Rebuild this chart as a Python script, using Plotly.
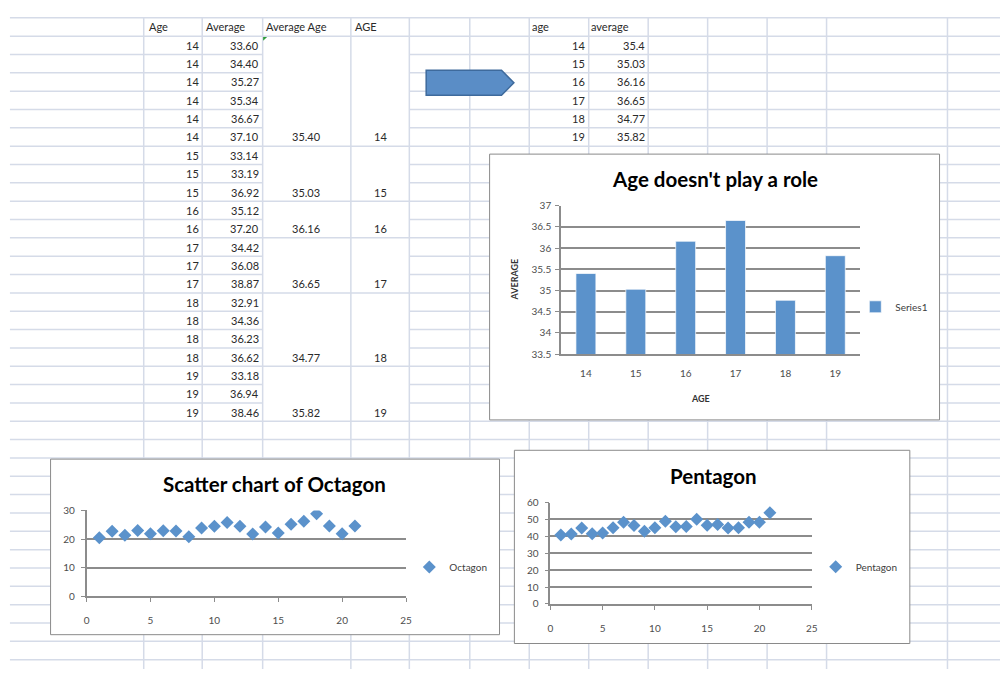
import plotly.graph_objects as go

W, H = 1006, 675

# ---------------- data ----------------
ages = [14, 14, 14, 14, 14, 14, 15, 15, 15, 16, 16, 17, 17, 17, 18, 18, 18, 18, 19, 19, 19]
averages = [33.60, 34.40, 35.27, 35.34, 36.67, 37.10, 33.14, 33.19, 36.92, 35.12, 37.20,
            34.42, 36.08, 38.87, 32.91, 34.36, 36.23, 36.62, 33.18, 36.94, 38.46]
group_ages = [14, 15, 16, 17, 18, 19]
group_avgs = [35.40, 35.03, 36.16, 36.65, 34.77, 35.82]
group_last_row = [6, 9, 11, 14, 18, 21]   # row (1-based) where merged cell text sits

octagon_x = [1, 2, 3, 4, 5, 6, 7, 8, 9, 10, 11, 12, 13, 14, 15, 16, 17, 18, 19, 20, 21]
octagon_y = [20.5, 22.7, 21.3, 23.0, 21.9, 22.9, 22.8, 20.8, 23.9, 24.5, 25.8,
             24.5, 21.8, 24.2, 22.1, 25.2, 26.2, 28.8, 24.6, 21.9, 24.6]
pentagon_x = [1, 2, 3, 4, 5, 6, 7, 8, 9, 10, 11, 12, 13, 14, 15, 16, 17, 18, 19, 20, 21]
pentagon_y = [40.8, 41.4, 44.9, 41.6, 42.0, 45.1, 48.4, 46.4, 43.0, 45.1, 49.0,
              45.7, 45.9, 50.1, 46.6, 47.0, 44.9, 45.1, 48.4, 48.4, 54.0]

left_headers = ["Age", "Average", "Average Age", "AGE"]
right_headers = ["age", "average"]

# ---------------- helpers ----------------
def X(px):
    return px / W


def Y(py):
    return 1 - py / H


ROW0, ROWH = 11.0, 18.7


def row_line(k):
    return ROW0 + ROWH * k


def row_mid(r):
    return ROW0 + ROWH * (r + 0.5)


GRID = "#D5DBE8"
AXC = "#8C8C8C"
BLUE = "#5B92CB"
FONT = "Lato"
TXT = "#2a2a2a"
TICKF = dict(family=FONT, size=10, color="#4d4d4d")

shapes = []
annotations = []

# spreadsheet gridlines
col_lines = [142, 201, 262, 351, 410, 471, 531, 591, 651, 711, 771, 831, 953]
merged_internal = {2, 3, 4, 5, 6, 8, 9, 11, 13, 14, 16, 17, 18, 20, 21}
for k in range(36):
    y = row_line(k)
    segs = [(7, 262), (410, W)] if k in merged_internal else [(7, W)]
    for a, b in segs:
        shapes.append(dict(type="line", xref="paper", yref="paper", x0=X(a), x1=X(b),
                           y0=Y(y), y1=Y(y), line=dict(color=GRID, width=1.5), layer="below"))
for c in col_lines:
    shapes.append(dict(type="line", xref="paper", yref="paper", x0=X(c), x1=X(c),
                       y0=Y(row_line(0)), y1=Y(H), line=dict(color=GRID, width=1.5), layer="below"))

# green error triangle
shapes.append(dict(type="path", xref="paper", yref="paper", layer="below",
                   path=f"M{X(262.5)},{Y(30.5)} L{X(266.5)},{Y(30.5)} L{X(262.5)},{Y(34.5)} Z",
                   fillcolor="#2E9B3A", line=dict(width=0)))

# arrow shape
pts = [(427, 64.5), (503, 64.5), (515.5, 77.3), (503, 90), (427, 90)]
path = "M" + " L".join(f"{X(a)},{Y(b)}" for a, b in pts) + " Z"
shapes.append(dict(type="path", xref="paper", yref="paper", path=path, layer="below",
                   fillcolor="#5A8DC6", line=dict(color="#3E6A9C", width=1.5)))

# chart boxes
for (x0, y0, x1, y1) in [(491, 150, 945, 421), (48, 461, 501, 640), (516, 452, 915, 649)]:
    shapes.append(dict(type="rect", xref="paper", yref="paper", layer="below",
                       x0=X(x0), x1=X(x1), y0=Y(y0), y1=Y(y1),
                       fillcolor="white", line=dict(color="#8A8A8A", width=1)))


def cell(text, px, py, anchor):
    annotations.append(dict(text=text, x=X(px), y=Y(py), xref="paper", yref="paper",
                            xanchor=anchor, yanchor="middle", showarrow=False,
                            font=dict(family=FONT, size=11, color=TXT)))


# left table
for txt, px in zip(left_headers, [145, 203, 263, 353]):
    cell(txt, px, row_mid(0), "left")
for i, (a, v) in enumerate(zip(ages, averages)):
    cell(str(a), 200, row_mid(i + 1), "right")
    cell(f"{v:.2f}", 260, row_mid(i + 1), "right")
for r, a, v in zip(group_last_row, group_ages, group_avgs):
    cell(f"{v:.2f}", 306, row_mid(r), "center")
    cell(str(a), 380.5, row_mid(r), "center")

# right table
for txt, px in zip(right_headers, [532, 591]):
    cell(txt, px, row_mid(0), "left")
for i, (a, v) in enumerate(zip(group_ages, group_avgs)):
    cell(str(a), 589.5, row_mid(i + 1), "right")
    cell(f"{v:g}", 649.5, row_mid(i + 1), "right")


def title(text, px, py, size=20.5):
    annotations.append(dict(text=f"<b>{text}</b>", x=X(px), y=Y(py), xref="paper", yref="paper",
                            xanchor="center", yanchor="middle", showarrow=False,
                            font=dict(family=FONT, size=size, color="#000")))


title("Age doesn't play a role", 718, 175)
title("Scatter chart of Octagon", 274, 486)
title("Pentagon", 717, 478)

annotations.append(dict(text="<b>AGE</b>", x=X(715), y=Y(399), xref="paper", yref="paper",
                        showarrow=False, font=dict(family=FONT, size=9, color="#333")))
annotations.append(dict(text="<b>AVERAGE</b>", x=X(516.5), y=Y(278), xref="paper", yref="paper",
                        showarrow=False, textangle=-90, font=dict(family=FONT, size=9, color="#333")))

# ---------------- traces ----------------
fig = go.Figure()
fig.add_trace(go.Bar(x=[str(a) for a in group_ages], y=group_avgs, name="Series1",
                     marker=dict(color=BLUE, line=dict(color="rgba(255,255,255,0.7)", width=1)),
                     xaxis="x", yaxis="y", legend="legend"))
fig.add_trace(go.Scatter(x=octagon_x, y=octagon_y, mode="markers", name="Octagon",
                         marker=dict(symbol="diamond", size=10, color=BLUE),
                         xaxis="x2", yaxis="y2", legend="legend2"))
fig.add_trace(go.Scatter(x=pentagon_x, y=pentagon_y, mode="markers", name="Pentagon",
                         marker=dict(symbol="diamond", size=10, color=BLUE),
                         xaxis="x3", yaxis="y3", legend="legend3"))

axcommon = dict(showline=True, linecolor=AXC, linewidth=1.5, zeroline=False,
                tickfont=TICKF, fixedrange=True)

fig.update_layout(
    width=W, height=H, autosize=False,
    margin=dict(l=0, r=0, t=0, b=0),
    paper_bgcolor="white", plot_bgcolor="rgba(0,0,0,0)",
    showlegend=True, bargap=0.6, hovermode=False,
    shapes=shapes, annotations=annotations,
    xaxis=dict(domain=[X(563), X(865)], anchor="y", type="category", showgrid=False,
               ticks="", ticklabelstandoff=9, **axcommon),
    yaxis=dict(domain=[Y(354), Y(202.5)], anchor="x", range=[33.5, 37], tick0=33.5, dtick=0.5,
               showgrid=True, gridcolor=AXC, gridwidth=1.5, ticks="outside", ticklen=4,
               tickcolor=AXC, ticklabelstandoff=2, **axcommon),
    xaxis2=dict(domain=[X(84.3), X(406.7)], anchor="y2", range=[0, 25], dtick=5, showgrid=False,
                ticks="outside", ticklen=4, tickcolor=AXC, ticklabelstandoff=10, **axcommon),
    yaxis2=dict(domain=[Y(601), Y(513.3)], anchor="x2", range=[0, 30], dtick=10, showgrid=True,
                gridcolor=AXC, gridwidth=1.5, ticks="outside", ticklen=4, tickcolor=AXC,
                ticklabelstandoff=4, **axcommon),
    xaxis3=dict(domain=[X(552.3), X(816)], anchor="y3", range=[0, 25], dtick=5, showgrid=False,
                ticks="outside", ticklen=4, tickcolor=AXC, ticklabelstandoff=10, **axcommon),
    yaxis3=dict(domain=[Y(608.7), Y(505.3)], anchor="x3", range=[0, 60], dtick=10, showgrid=True,
                gridcolor=AXC, gridwidth=1.5, ticks="outside", ticklen=4, tickcolor=AXC,
                ticklabelstandoff=4, **axcommon),
    legend=dict(x=X(860), y=Y(305.7), xanchor="left", yanchor="middle", bgcolor="rgba(0,0,0,0)",
                font=dict(family=FONT, size=10, color="#404040")),
    legend2=dict(x=X(410), y=Y(571), xanchor="left", yanchor="middle", bgcolor="rgba(0,0,0,0)",
                 font=dict(family=FONT, size=10, color="#404040")),
    legend3=dict(x=X(820), y=Y(570.7), xanchor="left", yanchor="middle", bgcolor="rgba(0,0,0,0)",
                 font=dict(family=FONT, size=10, color="#404040")),
)

fig.write_html(
    "out.html",
    config={"displayModeBar": False, "responsive": False},
    post_script="document.body.style.margin='0';document.body.style.overflow='hidden';"
                "document.documentElement.style.overflow='hidden';",
)
